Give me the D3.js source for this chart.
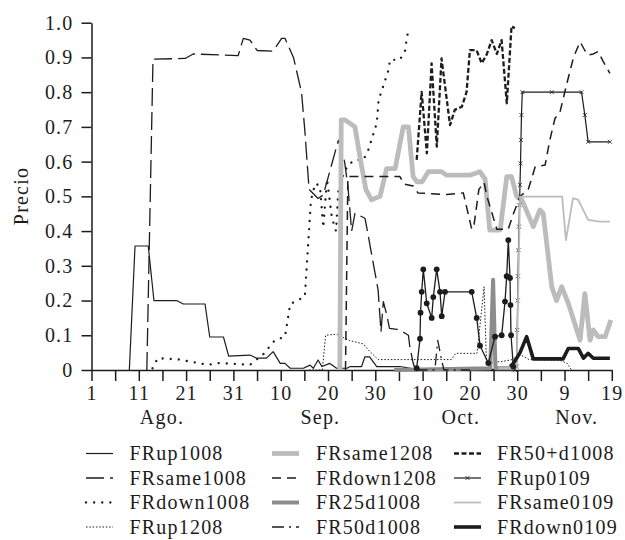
<!DOCTYPE html>
<html><head><meta charset="utf-8">
<script src="https://cdn.jsdelivr.net/npm/d3@7"></script>
<style>
body{margin:0;background:#fff}
svg{display:block}
text{font-family:"Liberation Serif","Times New Roman",serif;fill:#1c1c1c}
</style>
</head><body>
<svg id="chart" width="625" height="540"></svg>
<script>
// ---- data: x = days since 1 Aug, y = price ----
const FRup1008_day = [8.0,9.2,12.0,13.2,18.0,19.4,24.0,25.0,27.9,29.0,33.5,34.9,37.0,38.4,39.9,40.9,42.0,44.8,46.2,46.9,47.9,48.7,50.4,51.8,54.0,54.7,57.1,57.8,58.8,60.3,65.2,68.7,89.0];
const FRup1008_val = [0,0.357,0.357,0.2,0.2,0.19,0.19,0.095,0.095,0.04,0.043,0.034,0.034,0.053,0.019,0.019,0.005,0.005,0.014,0.005,0.029,0.01,0.019,0.005,0.005,0.01,0.01,0.038,0.038,0.01,0.01,0.002,0.002];

const FRsame1008_day = [11.7,13.0,19.8,21.5,31.0,32.1,33.5,35.0,38.4,40.2,40.9,42.7,44.4,45.1,46.0,47.9,49.0,52.2,53.5,54.2,55.0,55.7,57.8,58.2,60.6,61.2,61.7,62.4,63.0,64.6,66.3,67.0,67.3,68.0,68.5];
const FRsame1008_val = [0,0.895,0.897,0.91,0.905,0.955,0.95,0.92,0.918,0.955,0.955,0.9,0.8,0.69,0.52,0.494,0.504,0.662,0.6,0.53,0.40,0.451,0.437,0.41,0.23,0.11,0.197,0.16,0.12,0.117,0.106,0.1,0.067,0.02,0];

const FRdown1008_day = [12.9,14.0,18.7,20.5,24.7,26.8,33.5,36.3,38.8,40.9,42.0,45.1,46.4,47.3,48.3,49.0,49.8,50.8,51.7,52.2,53.2,54.2,55.7,57.5,58.5,60.3,60.7,61.4,62.1,62.8,63.1,65.2,66.3,66.6,67.0];
const FRdown1008_val = [0.005,0.034,0.03,0.025,0.015,0.02,0.015,0.045,0.086,0.096,0.19,0.211,0.49,0.537,0.53,0.41,0.55,0.44,0.40,0.52,0.56,0.59,0.605,0.605,0.633,0.71,0.777,0.806,0.835,0.864,0.893,0.893,0.92,0.95,0.98];

const FRup1208_day = [46.0,48.8,49.5,51.8,54.5,57.5,58.5,60.6,76.1,77.0,81.5,83.0,83.5,86.5,89.0,90.5,92.5,99.0,100.5,101.5];
const FRup1208_val = [0,0,0.1,0.103,0.085,0.075,0.058,0.03,0.03,0.048,0.048,0.24,0.02,0.024,0.03,0.045,0.03,0.028,0.02,0];

const FRsame1208_day = [52.5,52.8,53.6,55.7,56.8,58.0,59.2,61.0,62.4,64.2,65.9,67.0,68.0,68.8,69.9,71.2,74.0,75.1,80.0,82.1,83.2,84.2,86.4,87.8,88.8,89.9,91.0,93.4,94.8,95.5,97.3,98.3,99.4,100.8,102.6,103.3,104.3,105.4,106.1,107.1,108.6,109.8];
const FRsame1208_val = [0,0.72,0.72,0.70,0.61,0.52,0.49,0.50,0.58,0.58,0.70,0.70,0.557,0.542,0.542,0.571,0.571,0.561,0.561,0.571,0.55,0.403,0.403,0.557,0.557,0.499,0.49,0.413,0.461,0.451,0.24,0.2,0.24,0.192,0.115,0.086,0.22,0.086,0.115,0.096,0.096,0.144];

const FRdown1208_day = [53.7,54.2,65.2,66.1,68.0,69.0,75.1,78.6,80.4,80.9,81.9,83.0,83.6,85.7,88.1,89.2,90.6,92.3,93.8,95.9,96.9,98.0,99.0,100.5,101.9,103.3,104.3,105.0,106.1,107.1,108.2,109.6];
const FRdown1208_val = [0,0.557,0.557,0.535,0.53,0.51,0.505,0.51,0.405,0.42,0.52,0.54,0.5,0.405,0.405,0.45,0.5,0.518,0.585,0.59,0.662,0.725,0.74,0.825,0.9,0.945,0.92,0.907,0.91,0.917,0.888,0.854];

const FR25d1008_day = [64.0,84.3,84.9,85.4,89.5];
const FR25d1008_val = [0,0.005,0.26,0.005,0.005];

const FR50d1008_day = [68.5,72.6,73.2,74.0,74.5,80.0];
const FR50d1008_val = [0,0,0.085,0.03,0,0];

const FR50pd1008_day = [68.75,69.8,70.9,71.9,73.0,74.0,75.8,76.8,78.3,79.3,80.0,81.4,82.5,83.6,84.6,85.7,86.7,87.8,88.8,89.5];
const FR50pd1008_val = [0.605,0.801,0.624,0.883,0.643,0.897,0.705,0.749,0.758,0.801,0.921,0.921,0.883,0.91,0.95,0.91,0.95,0.768,0.99,0.984];

const FRup0109_day = [89.5,89.9,90.0,90.1,90.17,90.27,90.38,90.49,90.59,90.7,90.8,90.9,91.08,97.3,103.6,104.3,105.0,109.6];
const FRup0109_val = [0,0.01,0.115,0.2,0.27,0.345,0.413,0.475,0.533,0.595,0.662,0.734,0.8,0.8,0.8,0.734,0.657,0.657];

const FRsame0109_day = [86.0,89.9,90.6,99.5,100.3,101.8,102.9,105.0,107.5,109.6];
const FRsame0109_val = [0.005,0.005,0.499,0.499,0.374,0.495,0.49,0.432,0.427,0.427];

const FRdown0109_day = [88.5,89.2,90.6,92.0,93.4,99.7,100.8,102.9,104.0,105.0,106.1,109.6];
const FRdown0109_val = [0.01,0.019,0.05,0.096,0.032,0.032,0.062,0.062,0.034,0.048,0.034,0.034];

const dotted_day = [68.75,69.45,69.56,69.81,70.15,70.87,71.92,72.26,72.98,73.68,74.04,74.74,80.38,81.44,82.14,83.89,85.31,86.72,87.42,87.78,88.12,88.48,88.58,88.69,89.18];
const dotted_val = [0.005,0.09,0.165,0.225,0.29,0.192,0.15,0.21,0.29,0.225,0.155,0.225,0.225,0.15,0.07,0.02,0.096,0.1,0.197,0.27,0.374,0.265,0.187,0.1,0.01];

const yTicks = [0,0.1,0.2,0.3,0.4,0.5,0.6,0.7,0.8,0.9,1.0];
const xTickDays = [0,5,10,15,20,25,30,35,40,45,50,55,60,65,70,75,80,85,90,95,100,105,110];
const xTickLabels = ["1","","11","","21","","31","","10","","20","","30","","10","","20","","30","","9","","19"];
const monthNames = ["Ago.","Sep.","Oct.","Nov."];
const monthPos = [14.9,48.4,78.1,102.6];

// ---- styles ----
const BLACK = "#1c1c1c", LGRAY = "#bcbcbc", MGRAY = "#8c8c8c";
const series = [
  {name:"FRup1008", d:FRup1008_day, v:FRup1008_val, color:BLACK, w:1.2, dash:null},
  {name:"FRsame1008", d:FRsame1008_day, v:FRsame1008_val, color:BLACK, w:1.3, dash:"18,6"},
  {name:"FRdown1008", d:FRdown1008_day, v:FRdown1008_val, color:BLACK, w:2.3, dash:"0.1,8", cap:"round"},
  {name:"FRup1208", d:FRup1208_day, v:FRup1208_val, color:BLACK, w:1.0, dash:"1.5,1.8"},
  {name:"FRsame1208", d:FRsame1208_day, v:FRsame1208_val, color:LGRAY, w:4.8, dash:null},
  {name:"FRdown1208", d:FRdown1208_day, v:FRdown1208_val, color:BLACK, w:1.5, dash:"9,6"},
  {name:"FR25d1008", d:FR25d1008_day, v:FR25d1008_val, color:MGRAY, w:4.0, dash:null},
  {name:"FR50d1008", d:FR50d1008_day, v:FR50d1008_val, color:BLACK, w:1.3, dash:"12,5,2,5"},
  {name:"FR50+d1008", d:FR50pd1008_day, v:FR50pd1008_val, color:BLACK, w:2.3, dash:"5,2.5"},
  {name:"FRup0109", d:FRup0109_day, v:FRup0109_val, color:BLACK, w:1.2, dash:null, marker:"x"},
  {name:"FRsame0109", d:FRsame0109_day, v:FRsame0109_val, color:LGRAY, w:1.8, dash:null},
  {name:"FRdown0109", d:FRdown0109_day, v:FRdown0109_val, color:BLACK, w:3.6, dash:null}
];

const svg = d3.select("#chart");
const x = d3.scaleLinear().domain([0,110]).range([91.5,611.8]);
const y = d3.scaleLinear().domain([0,1]).range([370,22.7]);
const line = d3.line().x(p=>x(p[0])).y(p=>y(p[1]));
const FS = "20px", LS = "1.2px";

// axes
const gx = svg.append("g").attr("transform","translate(0,370)")
  .call(d3.axisBottom(x).tickValues(xTickDays).tickSize(11).tickSizeOuter(0).tickPadding(5)
    .tickFormat((d,i)=>xTickLabels[i]));
const gy = svg.append("g").attr("transform","translate(91.5,0)")
  .call(d3.axisLeft(y).tickValues(yTicks).tickSize(10).tickSizeOuter(0).tickPadding(8)
    .tickFormat(d=> d===0 ? "0" : d3.format(".1f")(d)));
[gx,gy].forEach(g=>{
  g.selectAll("path,line").attr("stroke",BLACK).attr("stroke-width",1.5);
  g.selectAll("text").attr("font-size",FS).attr("letter-spacing",LS)
    .attr("font-family","'Liberation Serif',serif").attr("fill",BLACK);
});

svg.append("g").selectAll("text").data(monthNames).join("text")
  .attr("x",(d,i)=>x(monthPos[i])).attr("y",424).attr("text-anchor","middle")
  .attr("font-size",FS).attr("letter-spacing",LS).text(d=>d);

svg.append("text").attr("transform","translate(28,196) rotate(-90)")
  .attr("text-anchor","middle").attr("font-size",FS).attr("letter-spacing",LS).text("Precio");

// lines
const plot = svg.append("g");
series.forEach(s=>{
  const pts = s.d.map((d,i)=>[d,s.v[i]]);
  plot.append("path").attr("d",line(pts)).attr("fill","none")
    .attr("stroke",s.color).attr("stroke-width",s.w)
    .attr("stroke-dasharray",s.dash).attr("stroke-linecap",s.cap||"butt")
    .attr("stroke-linejoin","round");
  if(s.marker==="x"){
    plot.append("g").selectAll("path").data(pts).join("path")
      .attr("transform",p=>`translate(${x(p[0])},${y(p[1])})`)
      .attr("d","M-2,-2L2,2M-2,2L2,-2").attr("stroke",s.color).attr("stroke-width",0.8);
  }
});
// unlabeled series with filled circle markers
const cpts = dotted_day.map((d,i)=>[d,dotted_val[i]]);
plot.append("path").attr("d",line(cpts)).attr("fill","none").attr("stroke",BLACK).attr("stroke-width",1.3);
plot.append("g").selectAll("circle").data(cpts).join("circle")
  .attr("cx",p=>x(p[0])).attr("cy",p=>y(p[1])).attr("r",2.9).attr("fill",BLACK);

// legend
const colSample = [86,272,454], colText = [129.5,316,497];
const rowY = [453.5,478,502.5,527];
const leg = svg.append("g");
series.forEach((s,i)=>{
  const c = Math.floor(i/4), r = i%4;
  const x0 = colSample[c], yy = rowY[r];
  leg.append("line").attr("x1",x0).attr("x2",x0+27).attr("y1",yy).attr("y2",yy)
    .attr("stroke",s.color).attr("stroke-width",s.w).attr("stroke-dasharray",s.dash)
    .attr("stroke-linecap",s.cap||"butt");
  if(s.marker==="x"){
    leg.append("path").attr("transform",`translate(${x0+13.5},${yy})`)
      .attr("d","M-2,-2L2,2M-2,2L2,-2").attr("stroke",s.color).attr("stroke-width",0.8);
  }
  leg.append("text").attr("x",colText[c]).attr("y",yy+6.6)
    .attr("font-size",FS).attr("letter-spacing",LS).text(s.name);
});
</script>
</body></html>
